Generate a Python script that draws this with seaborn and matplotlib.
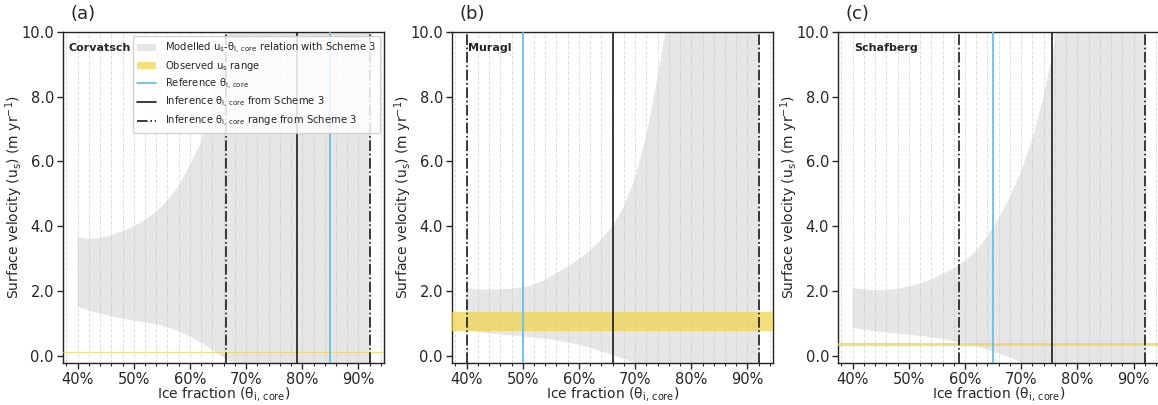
import numpy as np
import seaborn as sns
import matplotlib
matplotlib.use('Agg')
import matplotlib.pyplot as plt
from matplotlib.ticker import MultipleLocator, PercentFormatter, FormatStrFormatter
from matplotlib.patches import Patch
from matplotlib.lines import Line2D

# ice fraction samples (shared by all three sites)
ice_fraction = [0.40, 0.42, 0.44, 0.46, 0.48, 0.50, 0.52, 0.54, 0.56, 0.58, 0.60,
                0.62, 0.64, 0.66, 0.68, 0.70, 0.72, 0.74, 0.76, 0.78, 0.80, 0.84,
                0.88, 0.92]

sites = ['Corvatsch', 'Muragl', 'Schafberg']
panel_labels = ['(a)', '(b)', '(c)']

# modelled surface velocity envelope (m/yr)
upper_corvatsch = [3.66, 3.61, 3.64, 3.72, 3.85, 4.00, 4.20, 4.45, 4.80, 5.25, 5.90,
                   6.60, 7.80, 9.30, 11.2, 13.5, 16.0, 19.0, 23.0, 28.0, 33.0, 48.0,
                   70.0, 100.0]
lower_corvatsch = [1.52, 1.40, 1.30, 1.22, 1.15, 1.09, 1.03, 0.97, 0.88, 0.76, 0.60,
                   0.40, 0.17, -0.05, -0.30, -0.60, -1.0, -1.0, -1.0, -1.0, -1.0, -1.0,
                   -1.0, -1.0]

upper_muragl = [2.09, 2.05, 2.04, 2.05, 2.07, 2.11, 2.20, 2.35, 2.55, 2.75, 2.98,
                3.25, 3.60, 4.00, 4.60, 5.50, 6.80, 8.60, 10.6, 13.0, 16.0, 25.0,
                40.0, 60.0]
lower_muragl = [0.80, 0.74, 0.69, 0.66, 0.63, 0.60, 0.56, 0.52, 0.47, 0.41, 0.34,
                0.25, 0.13, 0.02, -0.10, -0.22, -0.40, -0.6, -1.0, -1.0, -1.0, -1.0,
                -1.0, -1.0]

upper_schafberg = [2.09, 2.05, 2.02, 2.03, 2.07, 2.14, 2.23, 2.36, 2.52, 2.70, 2.93,
                   3.25, 3.70, 4.25, 4.90, 5.70, 6.70, 8.00, 9.70, 12.0, 15.0, 24.0,
                   38.0, 60.0]
lower_schafberg = [0.87, 0.81, 0.76, 0.72, 0.68, 0.65, 0.61, 0.57, 0.52, 0.45, 0.38,
                   0.29, 0.18, 0.07, -0.05, -0.20, -0.40, -0.6, -1.0, -1.0, -1.0, -1.0,
                   -1.0, -1.0]

upper = [upper_corvatsch, upper_muragl, upper_schafberg]
lower = [lower_corvatsch, lower_muragl, lower_schafberg]

# observed surface velocity range (min, max)
observed_range = [(0.07, 0.13), (0.78, 1.35), (0.29, 0.39)]

# reference ice fraction, inferred value and inferred range
reference_theta = [0.85, 0.50, 0.65]
inferred_theta = [0.79, 0.66, 0.755]
inferred_range = [(0.665, 0.92), (0.40, 0.92), (0.59, 0.92)]

sns.set_theme(style='ticks')
plt.rcParams['font.family'] = ['DejaVu Sans']
plt.rcParams['mathtext.default'] = 'regular'

gray_fill = '#c8c8c8'
yellow = '#efd445'
blue = '#5bbde8'
dark = '#1a1a1a'

fig = plt.figure(figsize=(11.58, 4.05), dpi=100)
lefts = [0.0544, 0.3903, 0.7237]

for i, site in enumerate(sites):
    ax = fig.add_axes([lefts[i], 0.104, 0.2775, 0.817])

    ax.fill_between(ice_fraction, lower[i], upper[i], color=gray_fill, alpha=0.45,
                    linewidth=0, zorder=1)
    ax.axhspan(observed_range[i][0], observed_range[i][1], color=yellow, alpha=0.7,
               linewidth=0, zorder=3)
    ax.axvline(reference_theta[i], color=blue, lw=1.2, zorder=4)
    ax.axvline(inferred_theta[i], color=dark, lw=1.2, zorder=4)
    for r in inferred_range[i]:
        ax.axvline(r, color=dark, lw=1.2, ls='-.', zorder=4)

    ax.set_xlim(0.374, 0.946)
    ax.set_ylim(-0.22, 10)
    ax.xaxis.set_major_locator(MultipleLocator(0.1))
    ax.xaxis.set_minor_locator(MultipleLocator(0.02))
    ax.xaxis.set_major_formatter(PercentFormatter(1.0, decimals=0))
    ax.yaxis.set_major_locator(MultipleLocator(2))
    ax.yaxis.set_major_formatter(FormatStrFormatter('%.1f'))
    ax.grid(which='both', axis='x', color='#dedede', ls='--', lw=0.7, zorder=0)
    ax.tick_params(which='major', length=4, width=1, labelsize=10.5, direction='out',
                   bottom=True, left=True, pad=2.5)
    ax.tick_params(which='minor', length=2.5, width=0.8, bottom=True)
    for s in ax.spines.values():
        s.set_color('#222222')
        s.set_linewidth(1.0)

    ax.set_xlabel(r'Ice fraction ($\theta_{i,\,core}$)', fontsize=10)
    ax.set_ylabel(r'Surface velocity ($u_{s}$) (m yr$^{-1}$)', fontsize=10)
    ax.xaxis.set_label_coords(0.5, -0.066)
    ax.yaxis.set_label_coords(-0.118, 0.5)

    name_x = 0.383 if i == 0 else 0.403
    ax.text(name_x, 9.5, site, fontsize=8.0, fontweight='bold', va='center', zorder=6)
    ax.text(0.022, 1.054, panel_labels[i], transform=ax.transAxes, fontsize=13,
            va='center', ha='left')

    if i == 0:
        handles = [
            Patch(facecolor=gray_fill, alpha=0.45, edgecolor='none'),
            Patch(facecolor=yellow, alpha=0.7, edgecolor='none'),
            Line2D([], [], color=blue, lw=1.2),
            Line2D([], [], color=dark, lw=1.2),
            Line2D([], [], color=dark, lw=1.2, ls='-.'),
        ]
        labels = [
            r'Modelled $u_{s}$-$\theta_{i,\,core}$ relation with Scheme 3',
            r'Observed $u_{s}$ range',
            r'Reference $\theta_{i,\,core}$',
            r'Inference $\theta_{i,\,core}$ from Scheme 3',
            r'Inference $\theta_{i,\,core}$ range from Scheme 3',
        ]
        leg = ax.legend(handles, labels, loc='upper right', fontsize=7.2,
                        frameon=True, framealpha=0.85, labelspacing=0.35,
                        handlelength=1.9, handletextpad=0.85, borderpad=0.45,
                        borderaxespad=0.4)
        leg.get_frame().set_edgecolor('#cccccc')
        leg.set_zorder(10)

plt.savefig('out.png', dpi=100)
